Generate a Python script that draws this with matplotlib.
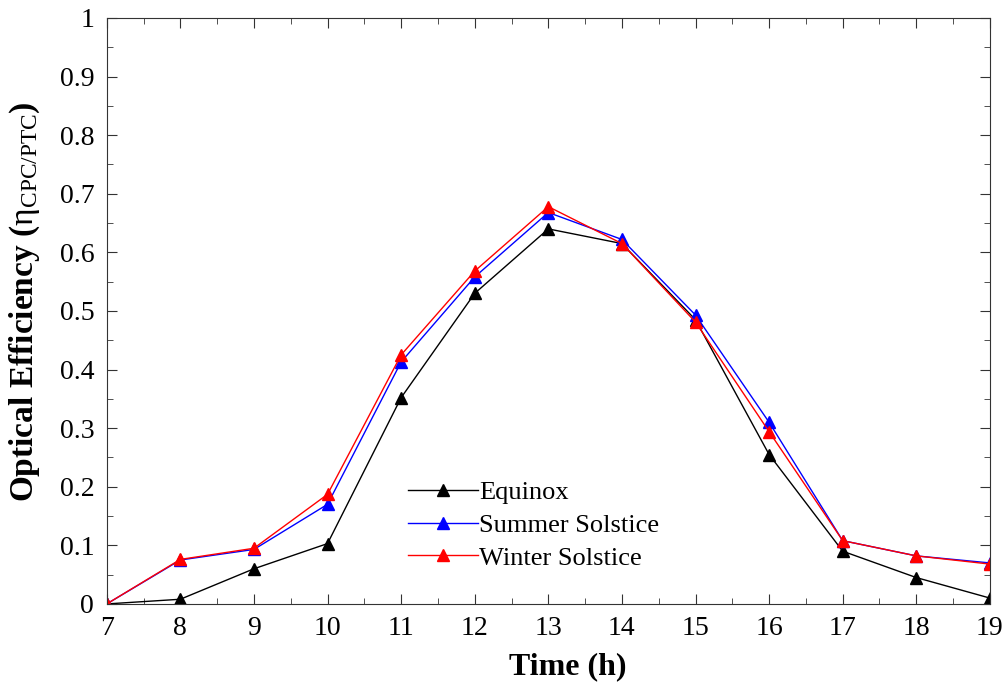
import numpy as np
import matplotlib.pyplot as plt
from matplotlib.ticker import MultipleLocator

plt.rcParams['font.family'] = ['Liberation Serif', 'DejaVu Serif']
plt.rcParams['mathtext.fontset'] = 'custom'
plt.rcParams['mathtext.rm'] = 'Liberation Serif'
plt.rcParams['mathtext.it'] = 'Liberation Serif'
plt.rcParams['mathtext.bf'] = 'Liberation Serif:bold'

# Dados
horas = [7, 8, 9, 10, 11, 12, 13, 14, 15, 16, 17, 18, 19]
equinox = [0.0, 0.008, 0.060, 0.103, 0.352, 0.530, 0.640, 0.615, 0.485, 0.255, 0.090, 0.045, 0.010]
summer = [0.0, 0.075, 0.093, 0.170, 0.413, 0.558, 0.668, 0.622, 0.493, 0.310, 0.108, 0.082, 0.070]
winter = [0.0, 0.076, 0.095, 0.187, 0.425, 0.568, 0.678, 0.615, 0.481, 0.294, 0.108, 0.082, 0.068]

fig = plt.figure(figsize=(10.07, 6.91), dpi=100)
ax = fig.add_axes([0.106, 0.126, 0.877, 0.848])

ax.plot(horas, equinox, color='black', lw=1, marker='^', ms=9, label='Equinox')
ax.plot(horas, summer, color='blue', lw=1, marker='^', ms=9, label='Summer Solstice')
ax.plot(horas, winter, color='red', lw=1, marker='^', ms=9, label='Winter Solstice')

ax.set_xlim(7, 19)
ax.set_ylim(0, 1)
ax.xaxis.set_major_locator(MultipleLocator(1))
ax.xaxis.set_minor_locator(MultipleLocator(0.5))
ax.yaxis.set_minor_locator(MultipleLocator(0.05))
ax.set_yticks(np.arange(0, 1.01, 0.1))
ax.set_yticklabels(['0' if abs(v) < 1e-9 else ('1' if abs(v - 1) < 1e-9 else f'{v:.1f}') for v in np.arange(0, 1.01, 0.1)])

ax.tick_params(which='both', direction='in', top=True, right=True, labelsize=20, color='#333333')
ax.tick_params(which='major', length=7, pad=9)
ax.tick_params(which='minor', length=4)
for s in ax.spines.values():
    s.set_color('#333333')

ax.set_xlabel('Time (h)', fontsize=23, fontweight='bold')
ax.xaxis.set_label_coords(0.522, -0.082)
ax.set_ylabel(r'$\mathbf{Optical\ Efficiency\ (}\mathrm{\eta}_{\mathrm{CPC/PTC}}\mathbf{)}$', fontsize=24)
ax.yaxis.set_label_coords(-0.073, 0.515)

ax.legend(frameon=False, fontsize=19, loc='lower left', bbox_to_anchor=(0.314, 0.018),
          handlelength=2.65, handletextpad=0.05, labelspacing=0.35)

plt.savefig('out.png', dpi=100)
